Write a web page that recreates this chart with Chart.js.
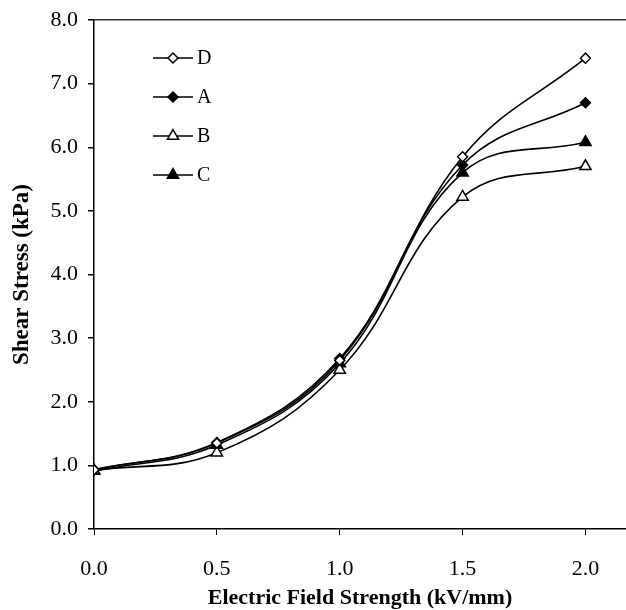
<!DOCTYPE html>
<html>
<head>
<meta charset="utf-8">
<script src="https://cdn.jsdelivr.net/npm/chart.js@4"></script>
<style>
  html, body { margin: 0; padding: 0; background: #fff; }
  #wrap { width: 626px; height: 610px; }
</style>
</head>
<body>
<div id="wrap"><canvas id="stressChart" width="626" height="610"></canvas></div>
<script>
// valores
const campo = [0.0, 0.5, 1.0, 1.5, 2.0];
const serieD = [0.93, 1.35, 2.65, 5.85, 7.40];
const serieA = [0.93, 1.36, 2.68, 5.72, 6.70];
const serieB = [0.92, 1.20, 2.50, 5.22, 5.70];
const serieC = [0.91, 1.32, 2.60, 5.60, 6.08];
const ticksX = [0.0, 0.5, 1.0, 1.5, 2.0];
const ticksY = [0, 1, 2, 3, 4, 5, 6, 7, 8];
const nomes = ["D", "A", "B", "C"];

const fonte = "'Liberation Serif', 'Times New Roman', serif";

const pontos = (ys) => campo.map((x, i) => ({ x: x, y: ys[i] }));

function serie(label, ys, estilo, cheio, raio) {
  return {
    label: label,
    data: pontos(ys),
    borderColor: "#000",
    borderWidth: 1.6,
    tension: 0.4,
    pointStyle: estilo,
    pointRadius: raio,
    pointBorderWidth: 1.5,
    pointBorderColor: "#000",
    pointBackgroundColor: cheio ? "#000" : "#fff",
  };
}

// legenda desenhada dentro do gráfico, com linha + marcador
const legendaLinhas = {
  id: "legendaLinhas",
  afterDraw(chart) {
    const ctx = chart.ctx;
    const ordem = nomes.map((n) => chart.data.datasets.findIndex((d) => d.label === n));
    ordem.forEach((idx, i) => {
      const ds = chart.data.datasets[idx];
      const y = 58 + i * 39;
      ctx.save();
      ctx.strokeStyle = "#000";
      ctx.lineWidth = 1.6;
      ctx.beginPath();
      ctx.moveTo(153, y);
      ctx.lineTo(193, y);
      ctx.stroke();
      ctx.fillStyle = ds.pointBackgroundColor;
      ctx.strokeStyle = "#000";
      ctx.lineWidth = 1.5;
      Chart.helpers.drawPoint(ctx, {
        pointStyle: ds.pointStyle,
        rotation: 0,
        radius: ds.pointRadius,
        borderWidth: 1.5,
      }, 173, y);
      ctx.fillStyle = "#000";
      ctx.font = "20px " + fonte;
      ctx.textBaseline = "middle";
      ctx.textAlign = "left";
      ctx.fillText(ds.label, 197, y + 1);
      ctx.restore();
    });
  },
};

new Chart(document.getElementById("stressChart"), {
  type: "line",
  data: {
    datasets: [
      serie("D", serieD, "rectRot", false, 5),
      serie("A", serieA, "rectRot", true, 5),
      serie("B", serieB, "triangle", false, 6.5),
      serie("C", serieC, "triangle", true, 6.5),
    ],
  },
  options: {
    responsive: false,
    animation: false,
    layout: { autoPadding: false, padding: { top: 20, right: 0, left: 0, bottom: 0 } },
    plugins: {
      legend: { display: false },
      tooltip: { enabled: false },
    },
    scales: {
      x: {
        type: "linear",
        min: 0,
        max: 2.165,
        afterBuildTicks: (scale) => {
          scale.ticks = ticksX.map((v) => ({ value: v }));
        },
        afterFit: (scale) => {
          scale.height = 81;
          scale.paddingRight = 0;
          scale.paddingLeft = 0;
        },
        border: { color: "#000", width: 1.5 },
        grid: {
          drawOnChartArea: false,
          tickLength: 6,
          tickColor: "#000",
          lineWidth: 1,
        },
        ticks: {
          color: "#000",
          font: { family: fonte, size: 22 },
          padding: 21,
          maxRotation: 0,
          callback: (v) => Number(v).toFixed(1),
        },
        title: {
          display: true,
          text: "Electric Field Strength (kV/mm)",
          color: "#000",
          font: { family: fonte, size: 22, weight: "bold" },
          padding: { top: 2, bottom: -2 },
        },
      },
      y: {
        min: 0,
        max: 8,
        afterBuildTicks: (scale) => {
          scale.ticks = ticksY.map((v) => ({ value: v }));
        },
        afterFit: (scale) => {
          scale.width = 94;
          scale.paddingTop = 0;
          scale.paddingBottom = 0;
        },
        border: { color: "#000", width: 1.5 },
        grid: {
          drawOnChartArea: true,
          color: (c) => (c.tick && c.tick.value === 8 ? "#333" : "rgba(0,0,0,0)"),
          lineWidth: 1.5,
          tickLength: 6,
          tickColor: "#000",
        },
        ticks: {
          color: "#000",
          font: { family: fonte, size: 22 },
          padding: 10,
          callback: (v) => Number(v).toFixed(1),
        },
        title: {
          display: true,
          text: "Shear Stress (kPa)",
          color: "#000",
          font: { family: fonte, size: 23, weight: "bold" },
          padding: { top: 8, bottom: 4 },
        },
      },
    },
  },
  plugins: [legendaLinhas],
});
</script>
</body>
</html>
